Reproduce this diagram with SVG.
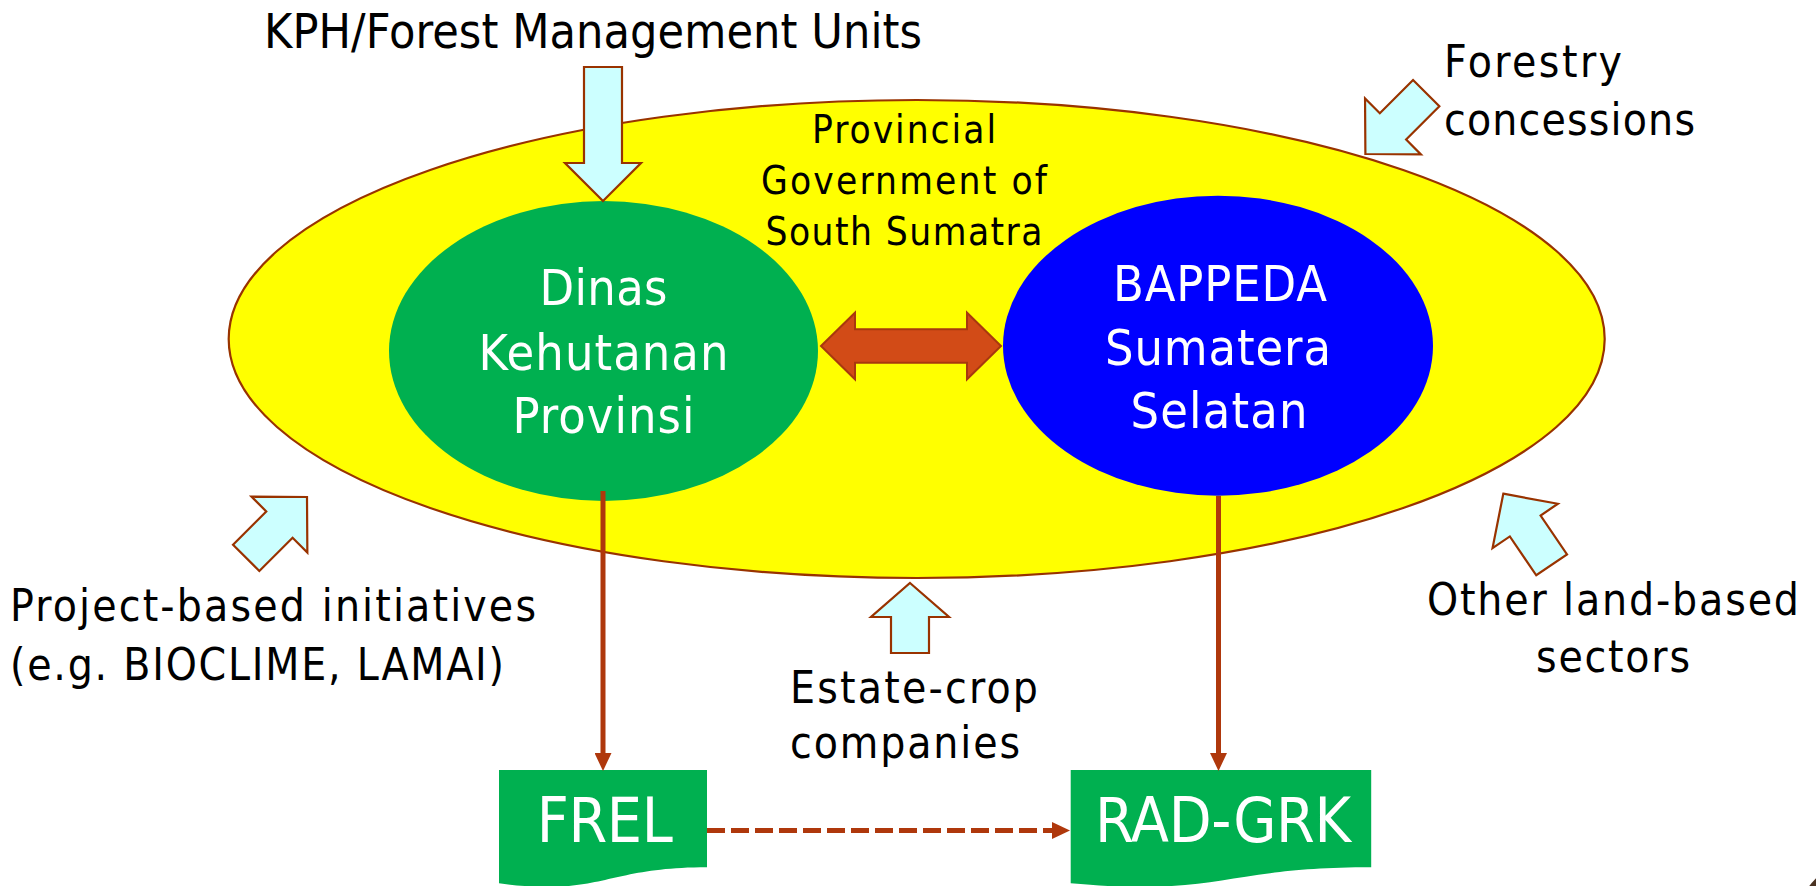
<svg xmlns="http://www.w3.org/2000/svg" width="1816" height="886" viewBox="0 0 1816 886">
<style>
text{font-family:'DejaVu Sans Condensed','DejaVu Sans',sans-serif;font-stretch:condensed}
.lbl{fill:#000;font-size:44px}
.wt{fill:#fff;font-size:50px}
.big{fill:#fff;font-size:62px}
.blk{fill:#CCFFFF;stroke:#993300;stroke-width:2.2;stroke-linejoin:miter}
.con{fill:none;stroke:#AF380C;stroke-width:5}
</style>
<defs>
<marker id="ah" viewBox="0 0 18 17" refX="1" refY="8.5" markerWidth="18" markerHeight="17" markerUnits="userSpaceOnUse" orient="auto">
<path d="M0,0 L18,8.5 L0,17 Z" fill="#AF380C"/>
</marker>
<path id="diag" d="M0,0 L39.5,39 L18.6,39 L18.6,86 L-18.6,86 L-18.6,39 L-39.5,39 Z"/>
</defs>
<rect width="1816" height="886" fill="#fff"/>

<g id="provincial-government">
<ellipse cx="916.7" cy="339" rx="688" ry="239" fill="#FFFF00" stroke="#993300" stroke-width="2.2"/>
<text class="lbl" style="font-size:38.5px" text-anchor="middle"><tspan x="904" y="143.3" textLength="184">Provincial</tspan><tspan x="904" y="194" textLength="286">Government of</tspan><tspan x="904" y="245" textLength="277">South Sumatra</tspan></text>
</g>

<g id="dinas-kehutanan">
<ellipse cx="603.5" cy="351" rx="214.5" ry="150" fill="#00B050"/>
<text class="wt" text-anchor="middle"><tspan x="603.5" y="305" textLength="128">Dinas</tspan><tspan x="603.5" y="370" textLength="250">Kehutanan</tspan><tspan x="603.5" y="433" textLength="182">Provinsi</tspan></text>
</g>

<g id="bappeda">
<ellipse cx="1218" cy="345.7" rx="215" ry="150" fill="#0000FF"/>
<text class="wt" text-anchor="middle"><tspan x="1220" y="301" textLength="214">BAPPEDA</tspan><tspan x="1218" y="365" textLength="226">Sumatera</tspan><tspan x="1219" y="428" textLength="177">Selatan</tspan></text>
</g>

<g id="frel">
<path d="M499,770 H707 V867.3 C603,867.3 603,897 499,883.3 Z" fill="#00B050"/>
<text class="big" x="604.7" y="842" text-anchor="middle" textLength="136">FREL</text>
</g>

<g id="rad-grk">
<path d="M1070.7,770 H1371.2 V867.3 C1221,867.3 1221,897 1070.7,883.3 Z" fill="#00B050"/>
<text class="big" x="1223" y="842" text-anchor="middle" textLength="256">RAD-GRK</text>
</g>

<g id="kph-label"><text class="lbl" style="font-size:48px" x="593" y="48" text-anchor="middle" textLength="658">KPH/Forest Management Units</text></g>
<g id="forestry-label"><text class="lbl"><tspan x="1444" y="77.3" textLength="178">Forestry</tspan><tspan x="1444" y="135" textLength="251">concessions</tspan></text></g>
<g id="project-label"><text class="lbl"><tspan x="10" y="621.3" textLength="526">Project-based initiatives</tspan><tspan x="10" y="679.7" textLength="494">(e.g. BIOCLIME, LAMAI)</tspan></text></g>
<g id="estate-label"><text class="lbl"><tspan x="790" y="703" textLength="248">Estate-crop</tspan><tspan x="790" y="758" textLength="230">companies</tspan></text></g>
<g id="other-label"><text class="lbl" text-anchor="middle"><tspan x="1613" y="614.7" textLength="372">Other land-based</tspan><tspan x="1613" y="672" textLength="154">sectors</tspan></text></g>

<g id="connectors">
<path d="M821,346 L855,312.7 L855,329.3 L967,329.3 L967,312.7 L1001,346 L967,379.3 L967,362.7 L855,362.7 L855,379.3 Z" fill="#D24B17" stroke="#A8380E" stroke-width="2"/>
<line class="con" x1="603" y1="491" x2="603" y2="754" marker-end="url(#ah)"/>
<line class="con" x1="1218.5" y1="496" x2="1218.5" y2="754" marker-end="url(#ah)"/>
<line class="con" x1="707" y1="830.5" x2="1053" y2="830.5" stroke-width="6" stroke-dasharray="18,6" marker-end="url(#ah)"/>
<path class="blk" transform="translate(603,201) rotate(180)" d="M0,0 L38,38 L19,38 L19,134 L-19,134 L-19,38 L-38,38 Z"/>
<path class="blk" transform="translate(910,583)" d="M0,0 L39,34 L19,34 L19,70 L-19,70 L-19,34 L-39,34 Z"/>
<use href="#diag" class="blk" transform="translate(307,497) rotate(45)"/>
<use href="#diag" class="blk" transform="translate(1365.4,154) rotate(-135)"/>
<use href="#diag" class="blk" transform="translate(1503.3,493.7) rotate(-34.2)"/>
</g>

<circle cx="1850" cy="915" r="50" fill="#4a3222"/>
</svg>
